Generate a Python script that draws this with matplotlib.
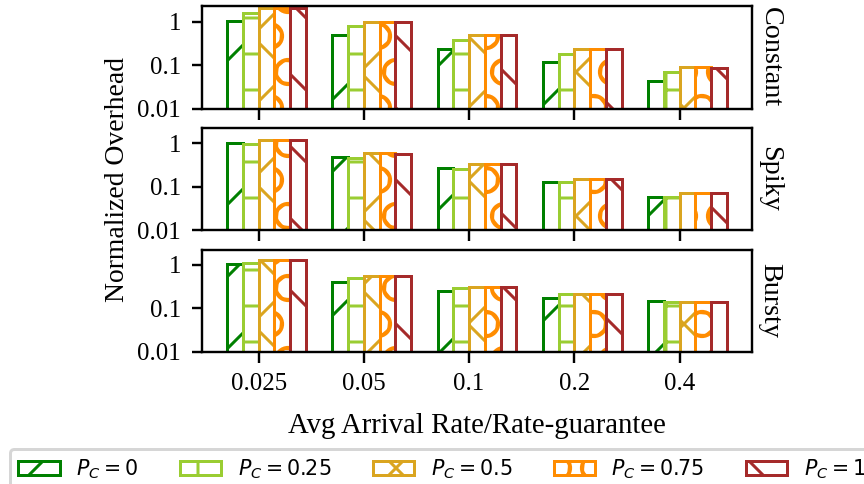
import numpy as np
import matplotlib
matplotlib.use("Agg")
import matplotlib.pyplot as plt
from matplotlib.ticker import FixedLocator, NullLocator, FixedFormatter

# Workload patterns (one panel each) and x categories
patterns = ["Constant", "Spiky", "Bursty"]
rate_labels = ["0.025", "0.05", "0.1", "0.2", "0.4"]

# Normalized overhead per P_C value, for each pattern
constant_pc0 = [1.04, 0.50, 0.242, 0.119, 0.0435]
constant_pc025 = [1.63, 0.78, 0.38, 0.182, 0.070]
constant_pc05 = [2.04, 1.00, 0.508, 0.233, 0.0886]
constant_pc075 = [2.12, 1.00, 0.508, 0.233, 0.0886]
constant_pc1 = [2.12, 1.00, 0.50, 0.233, 0.088]

spiky_pc0 = [1.02, 0.49, 0.27, 0.129, 0.058]
spiky_pc025 = [0.95, 0.47, 0.257, 0.127, 0.057]
spiky_pc05 = [1.17, 0.60, 0.33, 0.151, 0.070]
spiky_pc075 = [1.17, 0.60, 0.33, 0.151, 0.070]
spiky_pc1 = [1.22, 0.58, 0.33, 0.151, 0.070]

bursty_pc0 = [1.04, 0.40, 0.248, 0.174, 0.149]
bursty_pc025 = [1.11, 0.49, 0.286, 0.209, 0.137]
bursty_pc05 = [1.28, 0.55, 0.307, 0.215, 0.141]
bursty_pc075 = [1.28, 0.55, 0.307, 0.215, 0.141]
bursty_pc1 = [1.28, 0.55, 0.305, 0.215, 0.141]

series_labels = [r"$P_C = 0$", r"$P_C = 0.25$", r"$P_C = 0.5$",
                 r"$P_C = 0.75$", r"$P_C = 1$"]

data = {
    "Constant": [constant_pc0, constant_pc025, constant_pc05, constant_pc075, constant_pc1],
    "Spiky": [spiky_pc0, spiky_pc025, spiky_pc05, spiky_pc075, spiky_pc1],
    "Bursty": [bursty_pc0, bursty_pc025, bursty_pc05, bursty_pc075, bursty_pc1],
}

colors = ["green", "yellowgreen", "goldenrod", "darkorange", "brown"]
hatches = ["/", "+", "x", "O", "\\"]

plt.rcParams["font.family"] = ["Liberation Serif", "DejaVu Serif"]
plt.rcParams["hatch.linewidth"] = 1.0

fig, axes = plt.subplots(3, 1, sharex=True, figsize=(4.0, 484 / 216), dpi=216)
fig.subplots_adjust(left=0.2338, right=0.8704, top=0.9866, bottom=0.2733, hspace=0.19)

x = np.arange(len(rate_labels))
width = 0.15

for ax, name in zip(axes, patterns):
    for i, vals in enumerate(data[name]):
        ax.bar(x + (i - 2) * width, vals, width, align="edge",
               color="white", edgecolor=colors[i], hatch=hatches[i],
               linewidth=1.0, label=series_labels[i])
    ax.set_yscale("log")
    ax.set_ylim(0.01, 2.25)
    ax.yaxis.set_major_locator(FixedLocator([0.01, 0.1, 1]))
    ax.yaxis.set_major_formatter(FixedFormatter(["0.01", "0.1", "1"]))
    ax.yaxis.set_minor_locator(NullLocator())
    ax.tick_params(labelsize=8.3)
    ax.text(1.01, 0.5, name, transform=ax.transAxes, rotation=-90,
            ha="left", va="center", fontsize=9.4)

axes[-1].set_xticks(x)
axes[-1].set_xticklabels(rate_labels)
axes[-1].set_xlabel("Avg Arrival Rate/Rate-guarantee", fontsize=9.6, labelpad=6)
for ax in axes[:-1]:
    ax.tick_params(labelbottom=False)

fig.text(118 / 864, 1 - 179 / 484, "Normalized Overhead", rotation=90,
         ha="center", va="center", fontsize=9.2)

handles, labels = axes[0].get_legend_handles_labels()
fig.legend(handles, labels, ncol=5, loc="upper left",
           bbox_to_anchor=(10 / 864, 1 - 449 / 484), borderaxespad=0,
           prop={"family": "DejaVu Sans", "size": 6.9})

fig.savefig("out.png", dpi=216)
